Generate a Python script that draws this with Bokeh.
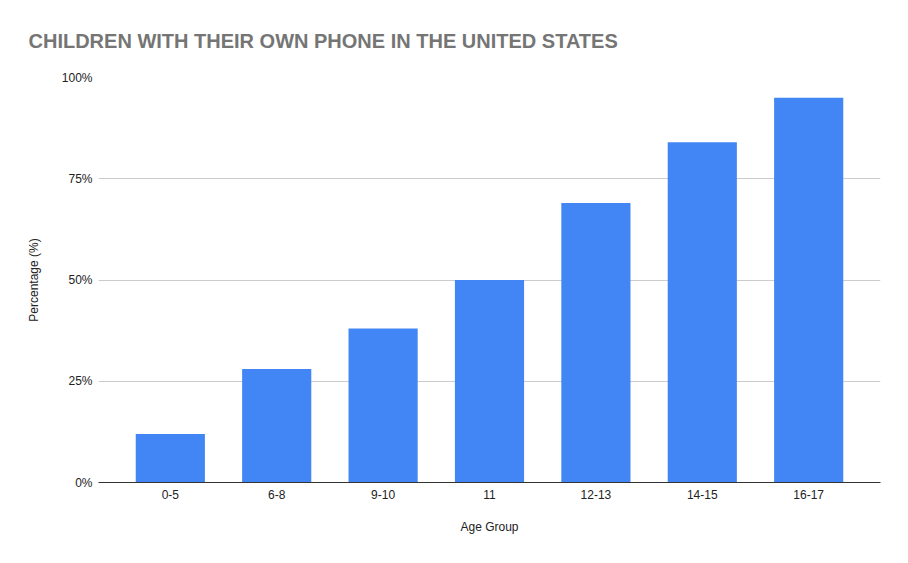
from bokeh.plotting import figure
from bokeh.models import FactorRange, Range1d, FixedTicker, ColumnDataSource
from bokeh.embed import file_html
from bokeh.resources import INLINE

title_text = "CHILDREN WITH THEIR OWN PHONE IN THE UNITED STATES"
age_groups = ["0-5", "6-8", "9-10", "11", "12-13", "14-15", "16-17"]
percentages = [12, 28, 38, 50, 69, 84, 95]
y_ticks = [0, 25, 50, 75, 100]
y_tick_labels = ["0%", "25%", "50%", "75%", "100%"]
x_axis_title = "Age Group"
y_axis_title = "Percentage (%)"

FONT = "Liberation Sans"

source = ColumnDataSource(data=dict(age=age_groups, pct=percentages))

p = figure(
    width=892, height=547,
    x_range=FactorRange(*age_groups, range_padding=0.175, range_padding_units="absolute"),
    y_range=Range1d(0, 100),
    output_backend="svg", toolbar_location=None,
    min_border_left=98, min_border_right=12, min_border_top=77, min_border_bottom=65,
)
p.outline_line_color = None
p.background_fill_color = "white"
p.border_fill_color = "white"

p.vbar(x="age", top="pct", width=0.65, source=source, fill_color="#4285F4", line_color=None)

# title
p.title.text = title_text
p.title.text_font = FONT
p.title.text_font_size = "20px"
p.title.text_font_style = "bold"
p.title.text_color = "#757575"
p.title.align = "left"
p.title.vertical_align = "bottom"
p.title.offset = -70
p.title.standoff = 52

# x axis
xa = p.xaxis[0]
xa.axis_line_color = "#333333"
xa.axis_line_width = 1
xa.major_tick_line_color = None
xa.minor_tick_line_color = None
xa.major_tick_out = 0
xa.major_tick_in = 0
xa.major_label_standoff = 7
xa.major_label_text_font = FONT
xa.major_label_text_font_size = "12px"
xa.major_label_text_color = "#222222"
xa.axis_label = x_axis_title
xa.axis_label_text_font = FONT
xa.axis_label_text_font_size = "12px"
xa.axis_label_text_font_style = "normal"
xa.axis_label_text_color = "#222222"
xa.axis_label_standoff = 18

# y axis
ya = p.yaxis[0]
ya.ticker = FixedTicker(ticks=y_ticks)
ya.major_label_overrides = {t: l for t, l in zip(y_ticks, y_tick_labels)}
ya.axis_line_color = None
ya.major_tick_line_color = None
ya.minor_tick_line_color = None
ya.major_tick_out = 0
ya.major_tick_in = 0
ya.major_label_standoff = 6
ya.major_label_text_font = FONT
ya.major_label_text_font_size = "12px"
ya.major_label_text_color = "#222222"
ya.axis_label = y_axis_title
ya.axis_label_text_font = FONT
ya.axis_label_text_font_size = "12px"
ya.axis_label_text_font_style = "normal"
ya.axis_label_text_color = "#222222"
ya.axis_label_standoff = 18

p.xgrid.grid_line_color = None
p.ygrid.ticker = FixedTicker(ticks=y_ticks)
p.ygrid.grid_line_color = "#cccccc"
p.ygrid.grid_line_width = 1

open("out.html", "w").write(file_html(p, INLINE))
